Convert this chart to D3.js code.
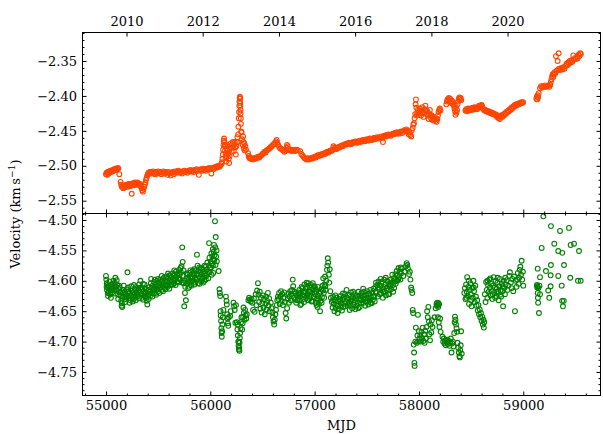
<!DOCTYPE html>
<html>
<head>
<meta charset="utf-8">
<script src="https://cdn.jsdelivr.net/npm/d3@7"></script>
<style>
  html, body { margin: 0; padding: 0; background: #fff; }
  svg { display: block; font-family: "DejaVu Serif", serif; }
</style>
</head>
<body>
<svg id="chart" width="603" height="434"></svg>
<script>
// ---- axis settings ----
const mjdDomain = [54775, 59740];
const upperDomain = [-2.5683, -2.3092];
const lowerDomain = [-4.7887, -4.4893];
const mjdMajorTicks = [55000, 56000, 57000, 58000, 59000];
const upperTicks = [-2.35, -2.40, -2.45, -2.50, -2.55];
const lowerTicks = [-4.50, -4.55, -4.60, -4.65, -4.70, -4.75];
const yearTicks = [55197, 55927, 56658, 57388, 58119, 58849];   // 1 Jan of each year, in MJD
const yearLabels = ["2010", "2012", "2014", "2016", "2018", "2020"];

// ---- measurements: [MJD, velocity km/s] ----
const upperSeries = [
[55000,-2.512],[55006,-2.510],[55012,-2.513],[55018,-2.509],[55024,-2.511],[55030,-2.508],[55036,-2.510],[55042,-2.507],[55048,-2.509],[55054,-2.507],
[55060,-2.508],[55066,-2.506],[55072,-2.507],[55078,-2.505],[55084,-2.506],[55090,-2.504],[55096,-2.506],[55102,-2.504],[55108,-2.505],[55114,-2.503],
[55118,-2.504],[55128,-2.512],
[55140,-2.523],[55146,-2.527],[55152,-2.530],[55158,-2.528],[55164,-2.532],[55170,-2.529],[55176,-2.531],[55182,-2.528],[55188,-2.530],[55194,-2.527],
[55200,-2.529],[55206,-2.527],[55212,-2.530],[55218,-2.526],[55224,-2.528],[55230,-2.526],[55236,-2.529],[55242,-2.527],[55247,-2.540],[55252,-2.527],
[55258,-2.525],[55264,-2.528],[55270,-2.526],[55276,-2.524],[55282,-2.527],[55288,-2.525],[55294,-2.527],[55300,-2.524],[55306,-2.526],[55312,-2.525],
[55318,-2.527],[55324,-2.526],[55330,-2.528],[55336,-2.530],[55342,-2.532],[55348,-2.535],[55354,-2.537],[55360,-2.533],[55366,-2.530],[55372,-2.527],
[55378,-2.524],[55384,-2.520],[55390,-2.517],[55396,-2.514],[55402,-2.512],[55408,-2.510],[55414,-2.511],[55420,-2.509],
[55430,-2.509],[55440,-2.511],[55450,-2.508],[55460,-2.510],[55470,-2.512],[55480,-2.509],[55490,-2.511],[55500,-2.508],[55510,-2.510],[55520,-2.509],
[55530,-2.512],[55540,-2.510],[55550,-2.508],[55560,-2.511],[55570,-2.509],[55580,-2.510],[55590,-2.513],[55600,-2.509],[55610,-2.511],[55620,-2.514],
[55630,-2.510],[55640,-2.509],[55650,-2.512],[55660,-2.508],[55670,-2.510],[55680,-2.509],[55690,-2.507],[55700,-2.510],[55710,-2.508],[55720,-2.509],
[55730,-2.511],[55740,-2.508],[55750,-2.507],[55760,-2.509],[55770,-2.508],[55780,-2.510],[55790,-2.507],[55800,-2.508],[55810,-2.506],[55820,-2.508],
[55830,-2.507],[55840,-2.509],[55850,-2.506],[55860,-2.507],[55870,-2.505],[55880,-2.507],[55890,-2.513],[55900,-2.506],[55910,-2.505],[55920,-2.507],
[55930,-2.504],[55940,-2.506],[55950,-2.505],[55960,-2.507],[55970,-2.504],[55980,-2.505],[55990,-2.503],[56000,-2.505],[56010,-2.511],[56020,-2.503],
[56030,-2.505],[56040,-2.502],[56050,-2.503],[56060,-2.501],[56070,-2.502],[56080,-2.500],[56090,-2.501],[56100,-2.499],[56108,-2.497],
[56112,-2.495],[56116,-2.490],[56120,-2.484],[56123,-2.477],[56126,-2.470],[56129,-2.464],[56132,-2.461],[56135,-2.466],[56138,-2.472],[56141,-2.478],
[56144,-2.470],[56147,-2.483],[56150,-2.489],[56153,-2.494],[56156,-2.486],[56160,-2.478],[56164,-2.471],[56168,-2.476],[56172,-2.482],[56176,-2.490],
[56180,-2.496],[56185,-2.486],[56190,-2.475],[56195,-2.468],[56200,-2.474],[56205,-2.480],[56210,-2.470],[56215,-2.466],[56220,-2.473],[56225,-2.479],
[56230,-2.469],[56235,-2.466],[56240,-2.474],[56245,-2.484],[56250,-2.472],[56255,-2.466],[56260,-2.459],[56264,-2.466],[56267,-2.455],[56270,-2.444],
[56273,-2.432],[56276,-2.423],[56278,-2.414],[56280,-2.408],[56282,-2.403],[56284,-2.401],[56286,-2.404],[56287,-2.410],[56288,-2.414],[56289,-2.420],
[56290,-2.425],[56292,-2.432],[56294,-2.440],[56296,-2.451],[56300,-2.452],[56305,-2.462],[56310,-2.470],[56314,-2.458],[56318,-2.466],[56322,-2.475],
[56326,-2.468],[56330,-2.478],[56336,-2.472],[56342,-2.477],
[56362,-2.482],[56368,-2.486],[56374,-2.489],[56380,-2.488],[56386,-2.490],[56392,-2.489],[56400,-2.490],[56410,-2.491],[56420,-2.489],[56430,-2.490],
[56440,-2.488],[56450,-2.489],[56460,-2.487],[56470,-2.488],[56480,-2.486],[56490,-2.485],[56500,-2.483],[56510,-2.482],[56520,-2.480],[56530,-2.481],
[56540,-2.478],[56550,-2.477],[56560,-2.476],[56570,-2.475],[56580,-2.473],[56590,-2.472],[56600,-2.470],[56610,-2.469],[56620,-2.467],[56630,-2.465],
[56636,-2.463],[56642,-2.467],[56650,-2.470],[56660,-2.473],[56670,-2.475],[56680,-2.476],[56690,-2.477],[56700,-2.478],[56710,-2.480],[56720,-2.479],
[56730,-2.474],[56735,-2.470],[56742,-2.472],[56750,-2.476],[56760,-2.478],[56770,-2.477],[56780,-2.479],[56790,-2.478],[56800,-2.477],[56810,-2.479],
[56820,-2.478],[56830,-2.477],[56840,-2.478],
[56862,-2.479],[56872,-2.483],[56882,-2.485],[56892,-2.487],[56902,-2.489],[56912,-2.490],[56922,-2.491],[56932,-2.489],[56942,-2.491],[56952,-2.490],
[56962,-2.489],[56972,-2.490],[56982,-2.488],[56992,-2.489],[57002,-2.487],[57012,-2.488],[57022,-2.486],[57032,-2.485],[57042,-2.486],[57052,-2.484],
[57062,-2.485],[57072,-2.483],[57082,-2.484],[57092,-2.482],[57102,-2.483],[57112,-2.481],[57122,-2.480],[57132,-2.481],[57142,-2.479],[57152,-2.478],
[57162,-2.479],[57172,-2.477],[57180,-2.472],[57188,-2.474],[57196,-2.476],[57204,-2.475],[57212,-2.476],[57220,-2.474],[57230,-2.473],[57240,-2.474],
[57250,-2.472],[57260,-2.471],[57270,-2.472],[57280,-2.470],[57290,-2.469],[57300,-2.470],[57310,-2.468],[57320,-2.469],[57330,-2.467],[57340,-2.468],
[57350,-2.469],[57360,-2.467],[57370,-2.466],[57380,-2.467],[57390,-2.465],[57400,-2.466],[57410,-2.467],[57420,-2.465],[57430,-2.464],[57440,-2.466],
[57450,-2.465],[57460,-2.463],[57470,-2.464],[57480,-2.465],[57490,-2.463],[57500,-2.462],[57510,-2.464],[57520,-2.463],[57530,-2.461],[57540,-2.462],
[57550,-2.463],[57560,-2.461],[57570,-2.460],[57580,-2.462],[57590,-2.461],[57600,-2.459],[57610,-2.460],[57620,-2.461],[57630,-2.459],[57640,-2.458],
[57650,-2.460],[57655,-2.466],[57660,-2.458],[57670,-2.457],[57680,-2.458],[57690,-2.456],[57700,-2.457],[57710,-2.455],[57720,-2.456],[57730,-2.457],
[57740,-2.455],[57750,-2.454],[57760,-2.455],[57770,-2.453],[57780,-2.454],[57790,-2.452],[57800,-2.453],[57810,-2.454],[57820,-2.452],[57830,-2.451],
[57840,-2.453],[57850,-2.451],[57860,-2.449],[57870,-2.450],[57880,-2.448],[57888,-2.450],[57895,-2.452],[57902,-2.455],[57910,-2.452],[57918,-2.456],
[57926,-2.458],[57932,-2.449],[57940,-2.446],[57946,-2.441],[57952,-2.439],[57958,-2.432],[57964,-2.426],[57968,-2.412],[57971,-2.405],[57975,-2.417],
[57978,-2.428],[57984,-2.424],[57990,-2.420],[57996,-2.426],[58002,-2.422],[58008,-2.418],[58014,-2.424],[58020,-2.428],[58026,-2.421],[58032,-2.416],
[58038,-2.423],[58044,-2.430],[58050,-2.425],[58056,-2.419],[58062,-2.414],[58068,-2.420],[58074,-2.426],[58080,-2.422],[58086,-2.428],[58092,-2.433],
[58098,-2.426],[58104,-2.420],[58110,-2.427],[58116,-2.432],[58122,-2.428],[58128,-2.434],[58134,-2.430],[58140,-2.435],[58146,-2.431],[58152,-2.433],
[58158,-2.436],[58164,-2.432],[58170,-2.437],[58176,-2.433],[58182,-2.428],[58188,-2.423],[58194,-2.420],[58200,-2.418],[58206,-2.421],
[58262,-2.412],[58268,-2.408],[58274,-2.405],[58280,-2.407],[58286,-2.403],[58292,-2.406],[58298,-2.404],[58304,-2.408],[58310,-2.410],[58316,-2.407],
[58322,-2.411],[58328,-2.409],[58334,-2.414],[58340,-2.418],[58346,-2.422],[58350,-2.427],[58355,-2.416],[58360,-2.424],[58365,-2.420],[58370,-2.412],
[58376,-2.408],[58382,-2.404],[58388,-2.402],[58394,-2.405],[58400,-2.403],[58406,-2.406],
[58445,-2.421],[58452,-2.419],[58459,-2.422],[58466,-2.420],[58473,-2.418],[58480,-2.421],[58487,-2.419],[58494,-2.420],[58501,-2.418],[58508,-2.420],
[58515,-2.417],[58522,-2.419],[58529,-2.418],[58536,-2.416],[58543,-2.418],[58550,-2.417],[58557,-2.419],[58564,-2.417],[58571,-2.416],[58578,-2.414],
[58585,-2.416],[58592,-2.414],[58599,-2.413],[58606,-2.415],[58613,-2.418],[58620,-2.419],[58628,-2.421],[58636,-2.420],[58644,-2.422],[58652,-2.421],
[58660,-2.423],[58668,-2.422],[58676,-2.424],[58684,-2.423],[58692,-2.425],[58700,-2.424],[58708,-2.426],[58716,-2.425],[58724,-2.427],[58732,-2.426],
[58740,-2.428],[58748,-2.430],[58756,-2.428],[58764,-2.432],[58770,-2.429],[58776,-2.433],[58782,-2.430],[58790,-2.428],[58798,-2.430],[58806,-2.427],
[58814,-2.428],[58822,-2.425],[58830,-2.426],[58838,-2.423],[58846,-2.424],[58854,-2.421],[58862,-2.422],[58870,-2.419],[58878,-2.420],[58886,-2.417],
[58894,-2.418],[58902,-2.415],[58910,-2.416],[58918,-2.413],[58926,-2.414],[58934,-2.412],[58942,-2.413],[58950,-2.411],[58958,-2.412],[58966,-2.410],
[58974,-2.411],[58982,-2.409],[58990,-2.410],[58998,-2.409],
[59125,-2.404],[59130,-2.401],[59134,-2.405],[59138,-2.399],[59142,-2.402],[59148,-2.396],[59160,-2.389],[59170,-2.386],[59180,-2.388],[59190,-2.386],
[59200,-2.387],[59210,-2.385],[59220,-2.387],[59230,-2.386],[59240,-2.385],[59250,-2.387],[59258,-2.384],[59264,-2.380],[59270,-2.376],[59276,-2.372],
[59282,-2.369],[59288,-2.373],[59294,-2.368],[59300,-2.366],[59306,-2.368],[59313,-2.343],[59329,-2.350],[59339,-2.339],[59320,-2.364],[59335,-2.362],
[59345,-2.361],[59355,-2.363],[59365,-2.360],[59375,-2.362],[59385,-2.359],[59395,-2.361],[59405,-2.357],[59415,-2.354],[59422,-2.356],[59430,-2.352],
[59438,-2.354],[59446,-2.350],[59454,-2.352],[59462,-2.349],[59470,-2.351],[59479,-2.342],[59486,-2.348],[59495,-2.346],[59505,-2.347],[59515,-2.344],
[59522,-2.346],[59530,-2.341],[59537,-2.343],[59545,-2.339],[59552,-2.340]
];

const lowerSeries = [
[55000,-4.592],[55003,-4.598],[55006,-4.610],[55010,-4.615],[55014,-4.607],[55018,-4.620],[55022,-4.612],[55026,-4.618],[55030,-4.609],[55035,-4.614],
[55040,-4.622],[55045,-4.610],[55050,-4.616],[55055,-4.606],[55060,-4.612],[55066,-4.605],[55072,-4.600],[55078,-4.609],[55085,-4.603],[55090,-4.595],
[55095,-4.610],[55100,-4.616],[55108,-4.607],[55115,-4.622],[55120,-4.613],[55128,-4.608],[55134,-4.618],[55140,-4.625],[55145,-4.633],[55150,-4.641],
[55153,-4.637],[55158,-4.628],[55162,-4.620],
[55008,-4.604],[55020,-4.625],[55033,-4.601],[55047,-4.628],[55062,-4.619],[55075,-4.614],[55088,-4.621],[55103,-4.599],[55117,-4.630],[55131,-4.611],
[55143,-4.619],[55156,-4.643],
[55168,-4.615],[55174,-4.626],[55180,-4.618],[55186,-4.630],[55192,-4.622],[55198,-4.614],[55206,-4.586],[55210,-4.625],[55216,-4.617],[55222,-4.628],
[55228,-4.620],[55234,-4.632],[55240,-4.624],[55246,-4.616],[55252,-4.627],[55258,-4.619],[55264,-4.630],[55270,-4.622],[55276,-4.614],[55282,-4.625],
[55288,-4.610],[55294,-4.620],[55300,-4.612],[55306,-4.623],[55312,-4.615],[55318,-4.606],[55324,-4.618],[55330,-4.600],[55336,-4.611],[55342,-4.622],
[55348,-4.614],[55354,-4.605],[55360,-4.617],[55366,-4.625],[55372,-4.612],[55378,-4.620],[55384,-4.628],[55390,-4.633],[55396,-4.639],[55400,-4.624],
[55406,-4.615],[55412,-4.622],[55418,-4.610],[55424,-4.618],[55430,-4.604],[55436,-4.612],[55442,-4.620],[55448,-4.608],[55454,-4.615],[55460,-4.602],
[55466,-4.611],[55472,-4.620],[55478,-4.606],[55484,-4.613],[55490,-4.600],
[55171,-4.608],[55183,-4.635],[55196,-4.627],[55213,-4.611],[55226,-4.636],[55243,-4.609],[55256,-4.634],[55268,-4.607],[55285,-4.632],[55298,-4.626],
[55315,-4.629],[55327,-4.612],[55345,-4.628],[55357,-4.631],[55369,-4.606],[55381,-4.614],[55393,-4.622],[55409,-4.630],[55421,-4.626],[55433,-4.597],
[55445,-4.626],[55457,-4.621],[55469,-4.598],[55481,-4.623],[55493,-4.614],
[55496,-4.609],[55502,-4.617],[55508,-4.603],[55514,-4.611],[55520,-4.598],[55526,-4.607],[55532,-4.615],[55538,-4.601],[55544,-4.609],[55550,-4.596],
[55556,-4.605],[55562,-4.612],[55568,-4.599],[55574,-4.606],[55580,-4.593],[55586,-4.602],[55592,-4.610],[55598,-4.596],[55604,-4.604],[55610,-4.591],
[55616,-4.600],[55622,-4.607],[55628,-4.594],[55634,-4.601],[55640,-4.588],[55646,-4.597],[55652,-4.604],[55658,-4.591],[55664,-4.598],[55670,-4.585],
[55676,-4.594],[55682,-4.601],[55688,-4.588],[55694,-4.596],[55700,-4.582],[55706,-4.590],[55712,-4.598],[55718,-4.586],[55724,-4.576],[55731,-4.545],
[55735,-4.569],[55740,-4.592],[55745,-4.604],[55750,-4.642],[55755,-4.600],[55760,-4.610],[55766,-4.632],[55770,-4.596],[55776,-4.605],[55782,-4.590],
[55788,-4.612],[55794,-4.598],[55800,-4.587],[55806,-4.603],[55812,-4.593],[55818,-4.608],[55824,-4.596],
[55499,-4.597],[55511,-4.620],[55523,-4.611],[55535,-4.592],[55547,-4.617],[55559,-4.594],[55571,-4.614],[55583,-4.608],[55595,-4.588],[55607,-4.613],
[55619,-4.592],[55631,-4.606],[55643,-4.606],[55655,-4.583],[55667,-4.607],[55679,-4.590],[55691,-4.603],[55703,-4.596],[55715,-4.579],[55727,-4.603],
[55743,-4.583],[55757,-4.620],[55773,-4.588],[55785,-4.601],[55797,-4.610],[55809,-4.583],[55821,-4.600],
[55830,-4.584],[55836,-4.600],[55842,-4.590],[55848,-4.606],[55854,-4.595],[55860,-4.583],[55866,-4.598],[55872,-4.557],[55876,-4.588],[55878,-4.575],
[55882,-4.604],[55888,-4.592],[55894,-4.578],[55900,-4.596],[55906,-4.586],[55912,-4.601],[55918,-4.590],[55924,-4.580],[55930,-4.595],[55936,-4.585],
[55942,-4.600],[55948,-4.588],[55954,-4.577],[55960,-4.592],[55966,-4.582],[55972,-4.570],[55978,-4.585],[55984,-4.575],[55988,-4.538],[55992,-4.562],
[55998,-4.578],[56004,-4.568],[56010,-4.555],[56016,-4.572],[56020,-4.560],[56024,-4.548],[56028,-4.565],[56029,-4.587],[56032,-4.552],[56036,-4.541],
[56040,-4.558],[56045,-4.502],[56048,-4.545],[56052,-4.528],[56056,-4.560],[56060,-4.550],[56080,-4.584],
[55833,-4.594],[55845,-4.581],[55857,-4.603],[55869,-4.590],[55885,-4.584],[55897,-4.605],[55909,-4.579],[55921,-4.597],[55933,-4.603],[55945,-4.575],
[55957,-4.598],[55969,-4.588],[55981,-4.596],[55995,-4.586],[56007,-4.578],[56013,-4.590],[56025,-4.575],[56038,-4.566],[56050,-4.574],[56063,-4.568],
[56088,-4.614],[56092,-4.620],[56095,-4.625],[56098,-4.650],[56100,-4.657],[56103,-4.666],[56106,-4.678],[56108,-4.686],[56110,-4.692],[56113,-4.683],
[56116,-4.672],[56120,-4.660],[56125,-4.648],[56150,-4.626],[56155,-4.633],[56158,-4.639],[56162,-4.655],[56165,-4.662],[56168,-4.670],[56172,-4.674],
[56176,-4.660],[56190,-4.658],[56196,-4.650],[56222,-4.636],[56228,-4.642],[56234,-4.648],[56240,-4.669],[56246,-4.640],[56255,-4.668],[56260,-4.680],
[56262,-4.672],[56264,-4.690],[56268,-4.700],[56271,-4.707],[56274,-4.713],[56275,-4.700],[56277,-4.710],[56279,-4.715],[56280,-4.702],[56283,-4.694],
[56286,-4.686],[56290,-4.678],[56294,-4.668],[56298,-4.660],[56305,-4.680],[56310,-4.670],[56315,-4.660],[56318,-4.644],[56322,-4.652],[56328,-4.664],
[56333,-4.648],[56338,-4.657],[56345,-4.662],[56350,-4.655],
[56365,-4.632],[56372,-4.628],[56380,-4.631],[56388,-4.634],[56395,-4.630],[56402,-4.636],[56410,-4.648],[56418,-4.629],[56425,-4.651],
[56435,-4.622],[56442,-4.640],[56448,-4.616],[56457,-4.604],[56462,-4.623],[56468,-4.635],[56474,-4.618],[56480,-4.646],[56486,-4.628],[56492,-4.652],
[56498,-4.637],[56504,-4.624],[56510,-4.644],[56516,-4.630],[56522,-4.655],[56528,-4.638],[56534,-4.626],[56540,-4.647],[56546,-4.633],[56552,-4.620],
[56558,-4.641],[56564,-4.629],[56570,-4.650],[56580,-4.636],[56588,-4.645],[56595,-4.652],[56600,-4.660],[56606,-4.667],[56612,-4.672],[56618,-4.664],
[56624,-4.655],[56630,-4.648],[56636,-4.640],[56642,-4.632],[56648,-4.626],[56655,-4.630],[56660,-4.620],[56666,-4.638],[56672,-4.626],[56678,-4.617],
[56684,-4.633],[56690,-4.622],[56696,-4.640],[56702,-4.628],[56708,-4.619],[56714,-4.635],[56722,-4.653],[56728,-4.662],[56736,-4.645],[56742,-4.630],
[56748,-4.621],[56754,-4.636],[56760,-4.626],[56766,-4.617],[56772,-4.632],[56778,-4.622],[56784,-4.615],[56790,-4.598],[56794,-4.609],[56800,-4.627],
[56806,-4.618],[56812,-4.631],[56818,-4.621],[56824,-4.636],[56830,-4.624],[56836,-4.632],[56842,-4.619],
[56848,-4.628],[56854,-4.615],[56860,-4.632],[56866,-4.620],[56872,-4.638],[56878,-4.624],[56884,-4.612],[56890,-4.630],[56896,-4.618],[56902,-4.606],
[56908,-4.624],[56914,-4.613],[56920,-4.628],[56926,-4.610],[56932,-4.622],[56938,-4.604],[56944,-4.617],[56950,-4.630],[56956,-4.611],[56962,-4.625],
[56968,-4.607],[56974,-4.620],[56980,-4.633],[56986,-4.614],[56992,-4.627],[56998,-4.609],[57004,-4.622],[57010,-4.636],[57016,-4.618],[57022,-4.630],
[57028,-4.643],[57034,-4.625],[57040,-4.638],[57046,-4.620],[57052,-4.650],[57058,-4.633],[57064,-4.614],[57070,-4.627],[57076,-4.608],[57082,-4.596],
[57088,-4.620],[57094,-4.606],[57100,-4.593],[57106,-4.615],[57112,-4.600],[57118,-4.582],[57122,-4.575],[57126,-4.563],[57130,-4.570],[57136,-4.590],
[57140,-4.603],[57145,-4.581],[57150,-4.617],[57156,-4.628],
[56851,-4.622],[56863,-4.640],[56875,-4.610],[56887,-4.624],[56899,-4.635],[56911,-4.619],[56923,-4.603],[56935,-4.632],[56947,-4.608],[56959,-4.618],
[56971,-4.634],[56983,-4.604],[56995,-4.619],[57007,-4.612],[57019,-4.640],[57031,-4.610],[57043,-4.629],[57055,-4.618],[57067,-4.636],[57079,-4.616],
[57091,-4.628],[57103,-4.609],
[57165,-4.635],[57172,-4.644],[57178,-4.626],[57184,-4.638],[57190,-4.650],[57196,-4.632],[57202,-4.645],[57208,-4.628],[57214,-4.640],[57220,-4.653],
[57226,-4.634],[57232,-4.647],[57238,-4.630],[57244,-4.642],[57250,-4.625],[57256,-4.637],[57262,-4.649],[57268,-4.631],[57274,-4.643],[57280,-4.626],
[57286,-4.638],[57292,-4.622],[57300,-4.634],[57306,-4.615],[57312,-4.628],[57318,-4.640],[57324,-4.623],[57330,-4.636],[57336,-4.648],[57342,-4.630],
[57348,-4.619],[57354,-4.633],[57360,-4.645],[57366,-4.627],[57372,-4.639],[57378,-4.622],[57384,-4.635],[57390,-4.647],[57396,-4.629],[57402,-4.641],
[57408,-4.624],[57414,-4.636],[57420,-4.618],[57426,-4.631],[57432,-4.643],[57438,-4.625],[57444,-4.637],[57450,-4.620],[57456,-4.632],
[57462,-4.624],[57468,-4.636],[57474,-4.618],[57480,-4.630],[57486,-4.641],[57492,-4.623],[57498,-4.634],[57504,-4.617],[57510,-4.628],[57516,-4.639],
[57522,-4.621],[57528,-4.632],[57534,-4.615],[57540,-4.627],[57546,-4.637],[57552,-4.620],[57558,-4.631],[57564,-4.613],[57570,-4.625],[57576,-4.634],
[57582,-4.610],[57588,-4.603],[57594,-4.620],[57600,-4.607],[57606,-4.626],[57612,-4.601],[57618,-4.614],[57624,-4.622],
[57630,-4.608],[57636,-4.620],[57642,-4.602],[57648,-4.615],[57654,-4.628],[57660,-4.610],[57666,-4.598],[57672,-4.618],[57678,-4.606],[57684,-4.624],
[57690,-4.612],[57696,-4.600],[57702,-4.616],[57708,-4.605],[57714,-4.622],[57720,-4.609],[57726,-4.598],[57732,-4.614],[57738,-4.603],[57744,-4.590],
[57750,-4.607],[57756,-4.596],[57762,-4.612],[57768,-4.601],[57774,-4.589],[57780,-4.597],[57786,-4.584],[57792,-4.600],[57798,-4.590],[57804,-4.579],
[57810,-4.594],[57816,-4.585],[57822,-4.598],[57828,-4.588],[57834,-4.580],[57850,-4.592],[57862,-4.585],[57875,-4.576],[57882,-4.571],[57888,-4.574],
[57895,-4.580],[57905,-4.589],[57912,-4.585],[57918,-4.598],[57925,-4.611],[57930,-4.615],[57936,-4.620],[57940,-4.648],[57944,-4.653],
[57175,-4.632],[57199,-4.624],[57223,-4.641],[57247,-4.633],[57271,-4.621],[57295,-4.642],[57321,-4.631],[57345,-4.641],[57369,-4.618],[57393,-4.625],
[57417,-4.645],[57441,-4.630],[57465,-4.613],[57489,-4.629],[57513,-4.622],[57537,-4.636],[57561,-4.626],[57585,-4.618],[57609,-4.611],[57633,-4.597],
[57657,-4.618],[57681,-4.595],[57705,-4.622],[57729,-4.606],[57753,-4.618],[57777,-4.605],[57801,-4.598],[57825,-4.578],
[57950,-4.705],[57953,-4.718],[57956,-4.735],[57958,-4.740],[57965,-4.700],[57970,-4.677],[57980,-4.702],[57985,-4.690],[57990,-4.656],[57995,-4.700],
[58000,-4.683],[58005,-4.695],[58012,-4.690],[58018,-4.700],[58024,-4.684],[58030,-4.694],[58036,-4.677],[58042,-4.699],[58048,-4.688],[58054,-4.702],
[58060,-4.682],[58066,-4.695],[58072,-4.676],[58078,-4.650],[58084,-4.660],[58090,-4.643],[58096,-4.667],[58100,-4.688],[58106,-4.698],[58112,-4.672],
[58118,-4.685],[58124,-4.665],[58130,-4.676],[58150,-4.660],[58160,-4.645],[58168,-4.638],[58172,-4.641],[58176,-4.636],[58180,-4.640],[58184,-4.643],
[58188,-4.637],[58192,-4.639],[58182,-4.660],[58190,-4.668],[58196,-4.676],[58202,-4.662],[58208,-4.684],
[58225,-4.692],[58232,-4.700],[58238,-4.695],[58245,-4.703],[58252,-4.698],[58258,-4.706],[58265,-4.701],[58272,-4.697],[58278,-4.704],[58285,-4.699],
[58292,-4.707],[58298,-4.702],[58305,-4.695],[58312,-4.718],[58318,-4.703],[58325,-4.700],[58332,-4.708],[58338,-4.686],[58342,-4.668],[58345,-4.659],
[58350,-4.664],[58355,-4.672],[58360,-4.678],[58365,-4.684],[58370,-4.702],[58376,-4.710],[58382,-4.718],[58388,-4.724],[58392,-4.726],[58396,-4.714],
[58400,-4.706],[58404,-4.683],[58410,-4.720],
[58435,-4.620],[58440,-4.612],[58446,-4.630],[58452,-4.606],[58458,-4.618],[58462,-4.594],[58468,-4.625],[58474,-4.610],[58480,-4.638],[58486,-4.615],
[58492,-4.604],[58498,-4.622],[58504,-4.642],[58510,-4.612],[58516,-4.628],[58522,-4.600],[58528,-4.617],[58534,-4.635],[58540,-4.608],
[58455,-4.628],[58477,-4.600],[58501,-4.632],[58525,-4.611],
[58546,-4.626],[58552,-4.641],[58558,-4.632],[58564,-4.649],[58570,-4.640],[58576,-4.655],[58582,-4.647],[58588,-4.660],[58594,-4.653],[58600,-4.666],
[58606,-4.659],[58612,-4.672],[58618,-4.664],[58622,-4.677],[58626,-4.668],
[58632,-4.622],[58638,-4.635],[58644,-4.602],[58650,-4.615],[58656,-4.628],[58662,-4.607],[58668,-4.618],[58674,-4.598],[58680,-4.611],
[58686,-4.624],[58692,-4.605],[58698,-4.617],[58704,-4.630],[58710,-4.608],[58716,-4.594],[58722,-4.620],[58728,-4.611],[58734,-4.600],[58740,-4.625],
[58746,-4.613],[58752,-4.603],[58758,-4.618],[58764,-4.632],[58770,-4.609],[58776,-4.597],[58782,-4.615],[58788,-4.626],[58794,-4.605],[58800,-4.617],
[58806,-4.642],[58812,-4.600],[58818,-4.612],[58824,-4.622],[58830,-4.606],
[58657,-4.600],[58683,-4.596],[58707,-4.622],[58731,-4.628],[58755,-4.595],[58779,-4.623],[58803,-4.609],[58827,-4.595],
[58840,-4.599],[58848,-4.615],[58856,-4.608],[58865,-4.592],[58872,-4.586],[58880,-4.603],[58888,-4.612],[58895,-4.597],[58904,-4.617],[58912,-4.593],
[58920,-4.650],[58928,-4.600],[58935,-4.610],[58942,-4.598],[58948,-4.587],[58955,-4.605],[58960,-4.595],[58966,-4.582],[58972,-4.577],[58978,-4.590],
[58984,-4.567],[58990,-4.598],[58996,-4.585],[59000,-4.608],
[59131,-4.607],[59134,-4.611],[59136,-4.609],[59138,-4.580],[59138,-4.620],[59140,-4.628],[59142,-4.636],[59145,-4.612],[59150,-4.653],[59155,-4.608],
[59160,-4.594],[59160,-4.622],[59176,-4.546],[59192,-4.494],[59217,-4.584],[59239,-4.616],[59249,-4.628],[59262,-4.591],[59262,-4.609],[59265,-4.510],
[59265,-4.574],[59297,-4.539],[59335,-4.551],[59335,-4.592],[59352,-4.518],[59368,-4.608],[59372,-4.633],[59374,-4.554],[59380,-4.642],[59388,-4.633],
[59390,-4.574],[59438,-4.513],[59450,-4.595],[59454,-4.541],[59486,-4.539],[59524,-4.600],[59534,-4.551],[59550,-4.600]
];

// ---- layout ----
const svg = d3.select("#chart");
const L = 82.5, R = 600.5, T = 32.5, M = 213.5, B = 395.5;
const FONT = 13;
const MAJOR = 4, MINOR = 2;

const x = d3.scaleLinear().domain(mjdDomain).range([L, R]);
const yU = d3.scaleLinear().domain(upperDomain).range([M, T]);
const yL = d3.scaleLinear().domain(lowerDomain).range([B, M]);

const defs = svg.append("defs");
defs.append("clipPath").attr("id", "clipU").append("rect")
  .attr("x", L).attr("y", T).attr("width", R - L).attr("height", M - T);
defs.append("clipPath").attr("id", "clipL").append("rect")
  .attr("x", L).attr("y", M).attr("width", R - L).attr("height", B - M);

// open-circle scatter
function scatter(data, y, color, clip) {
  svg.append("g").attr("clip-path", `url(#${clip})`)
    .selectAll("circle").data(data).join("circle")
    .attr("cx", d => x(d[0]))
    .attr("cy", d => y(d[1]))
    .attr("r", 2.4)
    .attr("fill", "none")
    .attr("stroke", color)
    .attr("stroke-width", 1.1);
}
scatter(upperSeries, yU, "#ff4500", "clipU");
scatter(lowerSeries, yL, "#008000", "clipL");

// inward-pointing ticks; labels optional
function ticks(gen, tx, ty, values, size, fmt, pad) {
  const g = svg.append("g").attr("transform", `translate(${tx},${ty})`)
    .call(gen.tickValues(values).tickSizeInner(-size).tickSizeOuter(0)
      .tickPadding(pad || 0).tickFormat(fmt || (() => "")));
  g.select(".domain").remove();
  g.attr("font-family", "DejaVu Serif").attr("font-size", FONT);
  g.selectAll("line").attr("stroke", "#000").attr("stroke-width", 1);
  g.selectAll("text").attr("fill", "#000");
  return g;
}

const xMinor = d3.range(54800, 59800, 200).filter(v => v % 1000 !== 0);
const minorsBetween = (lo, hi) => d3.range(Math.ceil(lo * 100), Math.floor(hi * 100) + 1)
  .filter(v => v % 5 !== 0).map(v => v / 100);
const yUMinor = minorsBetween(upperDomain[0], upperDomain[1]);
const yLMinor = minorsBetween(lowerDomain[0], lowerDomain[1]);
const fmt2 = d3.format(".2f");

// upper panel
ticks(d3.axisTop(x), 0, T, yearTicks, MAJOR, (d, i) => yearLabels[i], 6.5);
ticks(d3.axisBottom(x), 0, M, mjdMajorTicks, MAJOR);
ticks(d3.axisBottom(x), 0, M, xMinor, MINOR);
ticks(d3.axisLeft(yU), L, 0, upperTicks, MAJOR, fmt2, 5.5);
ticks(d3.axisLeft(yU), L, 0, yUMinor, MINOR);
ticks(d3.axisRight(yU), R, 0, upperTicks, MAJOR);
ticks(d3.axisRight(yU), R, 0, yUMinor, MINOR);

// lower panel
ticks(d3.axisTop(x), 0, M, mjdMajorTicks, MAJOR);
ticks(d3.axisTop(x), 0, M, xMinor, MINOR);
ticks(d3.axisBottom(x), 0, B, mjdMajorTicks, MAJOR, d3.format("d"), 5.5);
ticks(d3.axisBottom(x), 0, B, xMinor, MINOR);
ticks(d3.axisLeft(yL), L, 0, lowerTicks, MAJOR, fmt2, 5.5);
ticks(d3.axisLeft(yL), L, 0, yLMinor, MINOR);
ticks(d3.axisRight(yL), R, 0, lowerTicks, MAJOR);
ticks(d3.axisRight(yL), R, 0, yLMinor, MINOR);

// panel frames
[[T, M], [M, B]].forEach(([t, b]) => {
  svg.append("rect").attr("x", L).attr("y", t).attr("width", R - L).attr("height", b - t)
    .attr("fill", "none").attr("stroke", "#000").attr("stroke-width", 1);
});

// axis titles
svg.append("text")
  .attr("x", (L + R) / 2).attr("y", 430)
  .attr("text-anchor", "middle").attr("font-size", FONT).attr("fill", "#000")
  .text("MJD");

const yt = svg.append("text")
  .attr("transform", "translate(20,214) rotate(-90)")
  .attr("text-anchor", "middle").attr("font-size", FONT).attr("fill", "#000");
yt.append("tspan").text("Velocity (km\u2009s");
yt.append("tspan").attr("font-size", 9.2).attr("dy", -5).text("\u22121");
yt.append("tspan").attr("dy", 5).text(")");
</script>
</body>
</html>
